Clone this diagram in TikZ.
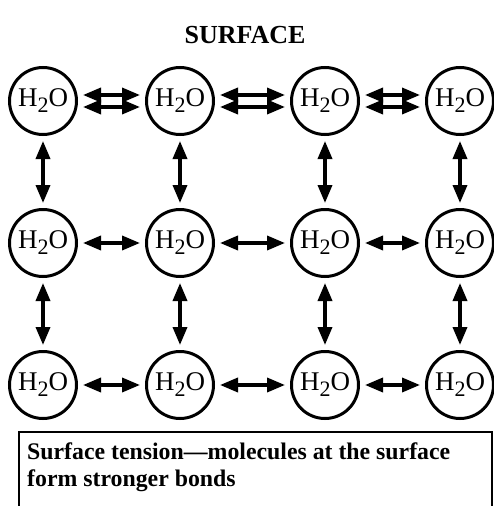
\documentclass[tikz,border=0pt]{standalone}
\usepackage{fontspec}
\setmainfont{Liberation Serif}
\usetikzlibrary{arrows.meta}

\newcommand{\water}{H\raisebox{-6pt}{\fontsize{22}{22}\selectfont 2}O}

\begin{document}
\begin{tikzpicture}[ x=1pt, y=-1pt,
    mol/.style={ draw, circle, line width=3pt, minimum size=67pt,
      inner sep=0pt, font=\fontsize{27}{27}\selectfont },
    bond/.style={ {Triangle[length=18pt,width=14pt]}-{Triangle[length=18pt,width=14pt]},
      line width=3.5pt, shorten <=5pt, shorten >=5pt },
    title/.style={font=\fontsize{26}{30}\selectfont\bfseries} ]

  \useasboundingbox (0,0) rectangle (493,506);

  \node[title] (head) at (245,35) {SURFACE};

  % surface row
  \node[mol] (m11) at (43,101) {\water};
  \node[mol] (m12) at (180,101) {\water};
  \node[mol] (m13) at (325,101) {\water};
  \node[mol] (m14) at (460,101) {\water};

  % middle row
  \node[mol] (m21) at (43,243) {\water};
  \node[mol] (m22) at (180,243) {\water};
  \node[mol] (m23) at (325,243) {\water};
  \node[mol] (m24) at (460,243) {\water};

  % bottom row
  \node[mol] (m31) at (43,385) {\water};
  \node[mol] (m32) at (180,385) {\water};
  \node[mol] (m33) at (325,385) {\water};
  \node[mol] (m34) at (460,385) {\water};

  % stronger bonds at the surface
  \draw[bond] ([yshift=-6pt]m11.east) -- ([yshift=-6pt]m12.west);
  \draw[bond] ([yshift=6pt]m11.east) -- ([yshift=6pt]m12.west);
  \draw[bond] ([yshift=-6pt]m12.east) -- ([yshift=-6pt]m13.west);
  \draw[bond] ([yshift=6pt]m12.east) -- ([yshift=6pt]m13.west);
  \draw[bond] ([yshift=-6pt]m13.east) -- ([yshift=-6pt]m14.west);
  \draw[bond] ([yshift=6pt]m13.east) -- ([yshift=6pt]m14.west);

  \draw[bond] (m21) -- (m22); \draw[bond] (m22) -- (m23);
  \draw[bond] (m23) -- (m24);
  \draw[bond] (m31) -- (m32); \draw[bond] (m32) -- (m33);
  \draw[bond] (m33) -- (m34);

  \draw[bond] (m11) -- (m21); \draw[bond] (m12) -- (m22);
  \draw[bond] (m13) -- (m23); \draw[bond] (m14) -- (m24);
  \draw[bond] (m21) -- (m31); \draw[bond] (m22) -- (m32);
  \draw[bond] (m23) -- (m33); \draw[bond] (m24) -- (m34);

  % caption box, open at the bottom
  \draw[line width=1.2pt] (19,510) |- (492,432) -- (492,510);
  \node[anchor=north west, align=left, inner sep=0pt,
    font=\fontsize{23.8}{27}\selectfont\bfseries] (note) at (27,443)
    {Surface tension---molecules at the surface\\form stronger bonds};

\end{tikzpicture}
\end{document}
